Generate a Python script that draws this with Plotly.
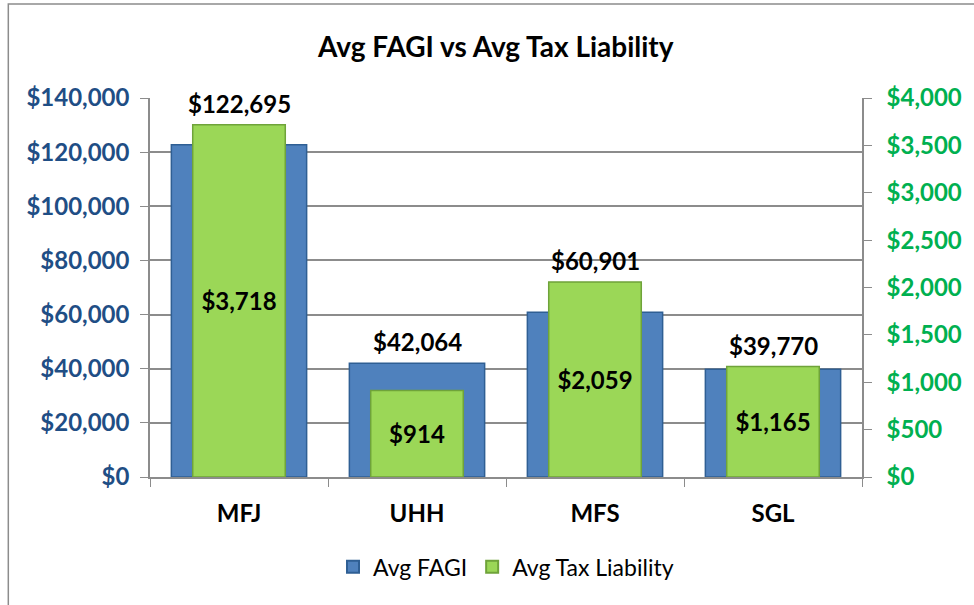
import plotly.graph_objects as go

# Chart data
categories = ["MFJ", "UHH", "MFS", "SGL"]
avg_fagi = [122695, 42064, 60901, 39770]
avg_tax = [3718, 914, 2059, 1165]

FONT = "Lato, 'Open Sans', sans-serif"
BLUE_TXT = "#1F4E85"
GREEN_TXT = "#00B050"
GRID = "#8C8C8C"

# left axis 0..140k vs right axis 0..4k
scale = 140000 / 4000

fig = go.Figure()
fig.add_trace(go.Bar(
    x=categories, y=avg_fagi,
    name="Avg FAGI",
    width=0.76, offset=-0.38,
    marker=dict(color="#4F81BD", line=dict(color="#2F5F94", width=1.5)),
    yaxis="y",
    hoverinfo="skip",
))
fig.add_trace(go.Bar(
    x=categories, y=avg_tax,
    name="Avg Tax Liability",
    width=0.52, offset=-0.26,
    marker=dict(color="#9BD757", line=dict(color="#6FA33A", width=1.5)),
    text=[f"${v:,.0f}" for v in avg_tax],
    textposition="inside", insidetextanchor="middle", textangle=0,
    textfont=dict(family=FONT, size=24, color="black", weight="bold"),
    yaxis="y2",
    hoverinfo="skip",
))

# FAGI labels sit above whichever bar is taller
for cat, f, t in zip(categories, avg_fagi, avg_tax):
    fig.add_annotation(
        x=cat, y=max(f, t * scale), xref="x", yref="y",
        text=f"${f:,.0f}", showarrow=False,
        yanchor="bottom", yshift=5,
        font=dict(family=FONT, size=24, color="black", weight="bold"),
    )

# outer chart frame (bottom and right edges fall outside the window)
fig.add_shape(
    type="rect", xref="paper", yref="paper",
    x0=-0.199, x1=1.16, y0=-0.37, y1=1.248,
    line=dict(color="#8C8C8C", width=1.5), fillcolor="rgba(0,0,0,0)",
    layer="below",
)

fig.update_layout(
    width=974, height=605,
    paper_bgcolor="white", plot_bgcolor="white",
    margin=dict(l=150, r=106, t=98, b=128),
    barmode="overlay",
    title=dict(
        text="Avg FAGI vs Avg Tax Liability",
        x=0.509, xanchor="center", y=0.922, yanchor="middle",
        xref="container", yref="container",
        font=dict(family=FONT, size=28, color="black", weight="bold"),
    ),
    xaxis=dict(
        type="category",
        tickfont=dict(family=FONT, size=24, color="black", weight="bold"),
        showline=True, linecolor=GRID, linewidth=1.5,
        ticks="outside", tickson="boundaries", ticklen=8, tickcolor=GRID,
        showgrid=False, ticklabelstandoff=14,
    ),
    yaxis=dict(
        range=[0, 140000], dtick=20000, tickformat="$,.0f",
        tickfont=dict(family=FONT, size=24, color=BLUE_TXT, weight="bold"),
        showline=True, linecolor=GRID, linewidth=1.5,
        ticks="outside", ticklen=8, tickcolor=GRID,
        gridcolor=GRID, gridwidth=1.5, zeroline=False,
        ticklabelstandoff=6,
    ),
    yaxis2=dict(
        range=[0, 4000], dtick=500, tickformat="$,.0f",
        overlaying="y", side="right",
        tickfont=dict(family=FONT, size=24, color=GREEN_TXT, weight="bold"),
        showline=True, linecolor=GRID, linewidth=1.5,
        ticks="outside", ticklen=8, tickcolor=GRID,
        showgrid=False, zeroline=False,
        ticklabelstandoff=10,
    ),
    legend=dict(
        orientation="h", x=0.5, xanchor="center", y=-0.237, yanchor="middle",
        font=dict(family=FONT, size=23, color="black"),
        itemsizing="constant", traceorder="normal",
    ),
    showlegend=True,
)

# drop the default 8px page margin so the chart sits flush in the window
fig.write_html(
    "out.html",
    config={"displayModeBar": False},
    post_script="document.body.style.margin='0px';",
)
